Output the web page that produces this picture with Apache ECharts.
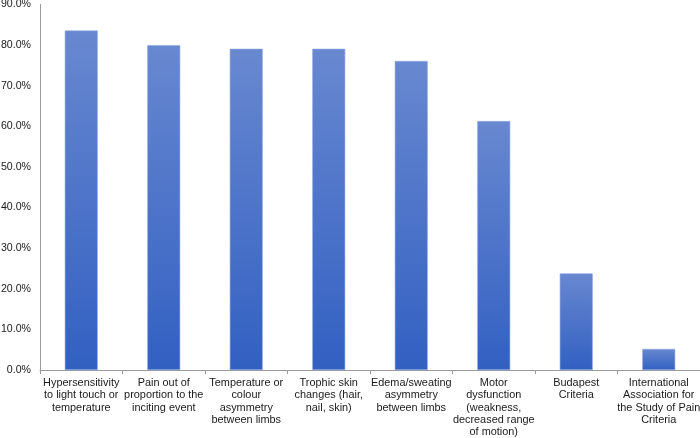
<!DOCTYPE html>
<html><head><meta charset="utf-8">
<script src="https://cdn.jsdelivr.net/npm/echarts@6/dist/echarts.min.js"></script>
<style>html,body{margin:0;padding:0;background:#fff}#c{width:700px;height:438px}</style>
</head><body><div id="c"></div>
<script>
const categories = [
  "Hypersensitivity\nto light touch or\ntemperature",
  "Pain out of\nproportion to the\ninciting event",
  "Temperature or\ncolour\nasymmetry\nbetween limbs",
  "Trophic skin\nchanges (hair,\nnail, skin)",
  "Edema/sweating\nasymmetry\nbetween limbs",
  "Motor\ndysfunction\n(weakness,\ndecreased range\nof motion)",
  "Budapest\nCriteria",
  "International\nAssociation for\nthe Study of Pain\nCriteria"
];
const values = [83.6, 80.0, 79.1, 79.1, 76.1, 61.3, 23.8, 5.2];
const yMin = 0, yMax = 90, yStep = 10;

const chart = echarts.init(document.getElementById('c'), null, {renderer: 'canvas'});
chart.setOption({
  animation: false,
  grid: {left: 40, right: 0, top: 4.5, bottom: 68, containLabel: false, outerBoundsMode: 'none'},
  xAxis: {
    type: 'category',
    data: categories,
    axisLine: {lineStyle: {color: '#9a9a9a', width: 1}},
    axisTick: {show: true, length: 4, lineStyle: {color: '#9a9a9a'}},
    axisLabel: {
      interval: 0, margin: 7, color: '#1a1a1a',
      fontFamily: 'Liberation Sans, Arial, sans-serif', fontSize: 10.9, lineHeight: 12.2
    }
  },
  yAxis: {
    type: 'value', min: yMin, max: yMax, interval: yStep,
    splitLine: {show: false},
    axisLine: {show: true, lineStyle: {color: '#9a9a9a', width: 1}},
    axisTick: {show: false},
    axisLabel: {
      margin: 9, color: '#1a1a1a',
      fontFamily: 'Liberation Sans, Arial, sans-serif', fontSize: 10.6,
      formatter: v => v.toFixed(1) + '%'
    }
  },
  series: [{
    type: 'bar',
    data: values,
    barWidth: '40%',
    itemStyle: {
      borderColor: '#93abe0', borderWidth: 0.6,
      color: new echarts.graphic.LinearGradient(0, 0, 0, 1, [
        {offset: 0, color: '#6888d0'},
        {offset: 1, color: '#3260c2'}
      ])
    }
  }]
});
</script></body></html>
